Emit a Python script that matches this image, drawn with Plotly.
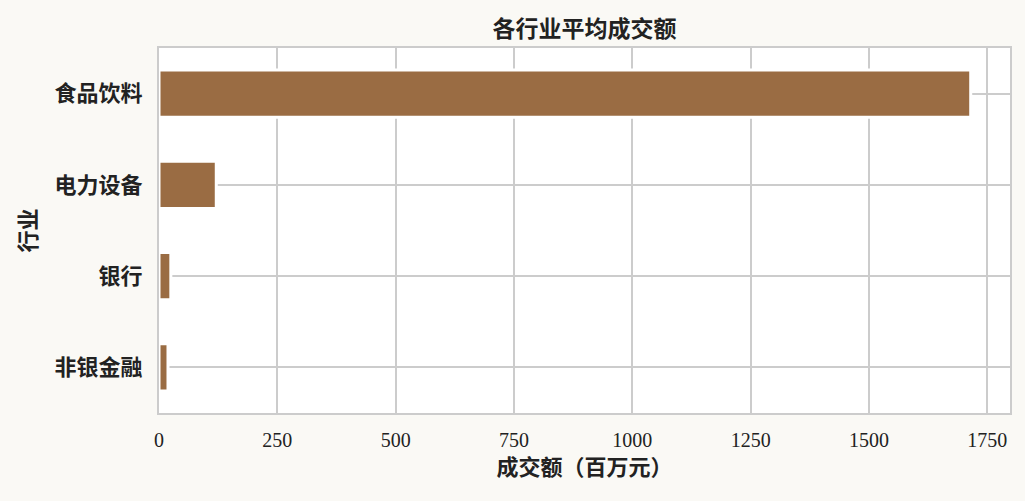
import plotly.graph_objects as go

# data
industries = ['食品饮料', '电力设备', '银行', '非银金融']
avg_turnover = [1715, 121, 25, 19]  # 百万元
x_ticks = [0, 250, 500, 750, 1000, 1250, 1500, 1750]

FONT = 'Liberation Serif, Noto Sans CJK SC'
GRID = '#cccccc'

fig = go.Figure(go.Bar(
    x=avg_turnover,
    y=industries,
    orientation='h',
    width=0.52,
    marker=dict(color='#9a6c43', line=dict(color='white', width=3)),
))

fig.update_layout(
    width=1025, height=501,
    paper_bgcolor='#faf9f5',
    plot_bgcolor='white',
    margin=dict(l=159, r=15, t=48, b=88),
    font=dict(family=FONT, color='#222222', size=20),
    title=dict(text='<b>各行业平均成交额</b>', x=0.5, xref='paper', xanchor='center',
               y=1, yref='paper', yanchor='bottom', pad=dict(b=11),
               font=dict(size=23, color='#222222')),
    showlegend=False,
)

fig.update_xaxes(
    range=[0, 1798], tickvals=x_ticks, ticktext=[str(v) for v in x_ticks],
    showgrid=True, gridcolor=GRID, gridwidth=2,
    showline=True, linecolor=GRID, linewidth=2, mirror=True,
    zeroline=False, ticks='', tickfont=dict(size=20), ticklabelstandoff=8,
    title=dict(text='<b>成交额（百万元）</b>', font=dict(size=22), standoff=10),
)
fig.update_yaxes(
    range=[3.5, -0.5],
    showgrid=True, gridcolor=GRID, gridwidth=2,
    showline=True, linecolor=GRID, linewidth=2, mirror=True,
    ticks='', ticklabelstandoff=10,
    tickfont=dict(size=22),
    tickvals=industries, ticktext=['<b>%s</b>' % s for s in industries],
    title=dict(text='<b>行业</b>', font=dict(size=22), standoff=12),
)

# drop the default body margin so the 1025x501 figure fills the window
fig.write_html('out.html', config={'displayModeBar': False},
               post_script="document.body.style.margin='0';")
